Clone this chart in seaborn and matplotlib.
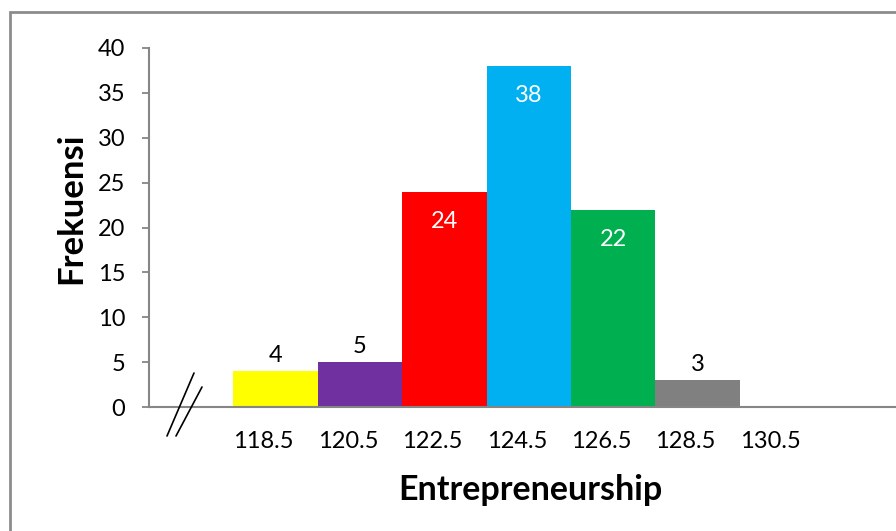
import matplotlib
matplotlib.use("Agg")
import matplotlib.pyplot as plt
from matplotlib.lines import Line2D
from matplotlib.patches import Rectangle
from matplotlib.transforms import ScaledTranslation
import seaborn as sns
import pandas as pd

categories = ["118.5", "120.5", "122.5", "124.5", "126.5", "128.5", "130.5"]
frequencies = [4, 5, 24, 38, 22, 3, 0]
bar_colors = ["#FFFF00", "#7030A0", "#FF0000", "#00B0F0", "#00B050", "#808080", "#FFFFFF"]
y_ticks = [0, 5, 10, 15, 20, 25, 30, 35, 40]
x_title = "Entrepreneurship"
y_title = "Frekuensi"

sns.set_style("white")
plt.rcParams["font.family"] = ["Lato", "DejaVu Sans"]

W, H = 896, 531
fig = plt.figure(figsize=(W / 100, H / 100), dpi=100)
fig.patch.set_facecolor("white")
ax = fig.add_axes([149 / W, (H - 407) / H, 1 - 149 / W, (407 - 48) / H])

df = pd.DataFrame({"kelas": categories, "frek": frequencies})
sns.barplot(data=df, x="kelas", y="frek", hue="kelas", order=categories,
            hue_order=categories, palette=bar_colors, width=1, saturation=1,
            linewidth=0, legend=False, ax=ax)

ax.set_xlim(-1.5, 7.35)
ax.set_ylim(0, 40)
ax.set_yticks(y_ticks)
ax.set_yticklabels([str(t) for t in y_ticks])

gray = "#868686"
for s in ["top", "right"]:
    ax.spines[s].set_visible(False)
for s in ["left", "bottom"]:
    ax.spines[s].set_color(gray)
    ax.spines[s].set_linewidth(1.5)

fs = 17
ax.tick_params(axis="y", direction="out", length=5, width=1.3, color=gray,
               labelsize=fs, labelcolor="black", pad=12, left=True)
ax.tick_params(axis="x", length=0, labelsize=fs, labelcolor="black", pad=17.5)
for lab in ax.get_xticklabels():
    lab.set_transform(lab.get_transform() + ScaledTranslation(-0.12, 0, fig.dpi_scale_trans))

ax.set_xlabel(x_title, fontsize=24.5, fontweight="bold", color="black")
ax.set_ylabel(y_title, fontsize=25, fontweight="bold", color="black")
ax.xaxis.label.set_va("center")
ax.xaxis.set_label_coords(0.51, -0.231)
ax.yaxis.label.set_va("center")
ax.yaxis.set_label_coords(-0.1037, 0.554)

for p in ax.patches:
    h = p.get_height()
    if h <= 0:
        continue
    cx = p.get_x() + p.get_width() / 2
    if h >= 10:
        ax.annotate(str(int(round(h))), xy=(cx, h), xytext=(0, -21.5),
                    textcoords="offset points", ha="center", va="center",
                    color="white", fontsize=fs)
    else:
        ax.annotate(str(int(round(h))), xy=(cx, h), xytext=(0, 11.5),
                    textcoords="offset points", ha="center", va="center",
                    color="black", fontsize=fs)

# axis-break mark
for (x1, y1, x2, y2) in [(167, 436, 194, 373), (176, 436, 202, 387)]:
    fig.add_artist(Line2D([x1 / W, x2 / W], [1 - y1 / H, 1 - y2 / H],
                          transform=fig.transFigure, color="black", lw=1.2))

# chart border
fig.add_artist(Rectangle((10 / W, -0.2), 1.5, (H - 12) / H + 0.2,
                         transform=fig.transFigure, fill=False,
                         edgecolor="#8c8c8c", lw=2, clip_on=False))

fig.savefig("out.png", dpi=100)
